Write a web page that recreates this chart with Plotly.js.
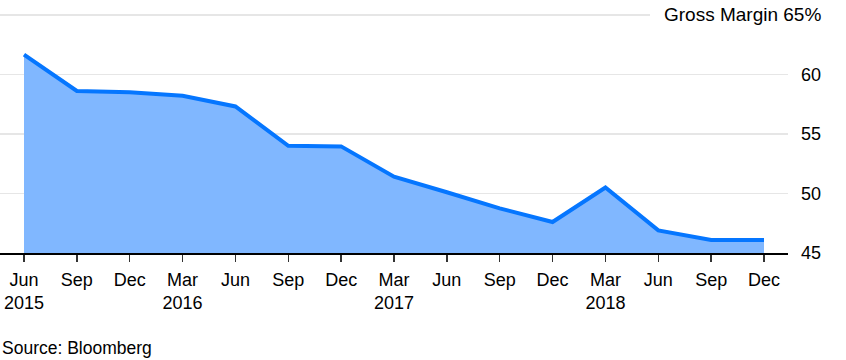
<!DOCTYPE html>
<html>
<head>
<meta charset="utf-8">
<script src="https://cdn.plot.ly/plotly-3.0.1.min.js"></script>
<style>html,body{margin:0;padding:0;background:#fff;}#chart{width:846px;height:360px;}</style>
</head>
<body>
<div id="chart"></div>
<script>
const quarters = ["Jun 2015","Sep 2015","Dec 2015","Mar 2016","Jun 2016","Sep 2016","Dec 2016","Mar 2017","Jun 2017","Sep 2017","Dec 2017","Mar 2018","Jun 2018","Sep 2018","Dec 2018"];
const tickLabels = ["Jun<br>2015","Sep","Dec","Mar<br>2016","Jun","Sep","Dec","Mar<br>2017","Jun","Sep","Dec","Mar<br>2018","Jun","Sep","Dec"];
const grossMargin = [61.65, 58.6, 58.5, 58.2, 57.3, 54.0, 53.95, 51.4, 50.1, 48.75, 47.6, 50.5, 46.9, 46.1, 46.1];
const yTicks = [45, 50, 55, 60, 65];
const yTickText = ["45", "50", "55", "60", ""];

const FONT = "Liberation Sans, Arial, Helvetica, sans-serif";

const trace = {
  x: quarters,
  y: grossMargin,
  type: "scatter",
  mode: "lines",
  fill: "tozeroy",
  fillcolor: "rgb(128,183,255)",
  line: {color: "rgb(5,118,255)", width: 4},
  hoverinfo: "x+y"
};

const layout = {
  width: 846, height: 360,
  margin: {l: 0, r: 58, t: 10, b: 107, pad: 0},
  paper_bgcolor: "#fff", plot_bgcolor: "#fff",
  showlegend: false,
  font: {family: FONT, color: "#000", size: 18},
  xaxis: {
    type: "category",
    range: [-0.454, 14.454],
    tickvals: quarters,
    ticktext: tickLabels,
    showgrid: false,
    zeroline: false,
    showline: true,
    linecolor: "#000",
    linewidth: 2,
    ticks: "outside",
    ticklen: 7,
    tickwidth: 1.5,
    tickcolor: "#333",
    ticklabelstandoff: 2,
    tickfont: {family: FONT, size: 18, color: "#000"}
  },
  yaxis: {
    side: "right",
    range: [45, 65.4],
    tickvals: yTicks,
    ticktext: yTickText,
    showgrid: true,
    gridcolor: "#e6e6e6",
    gridwidth: 1.5,
    zeroline: false,
    showline: false,
    ticks: "",
    ticklabelstandoff: 12,
    tickfont: {family: FONT, size: 18, color: "#000"}
  },
  shapes: [{
    type: "rect", xref: "paper", yref: "y",
    x0: 650/788, x1: 1.0, y0: 64.6, y1: 65.4,
    fillcolor: "#fff", line: {width: 0}, layer: "above"
  }],
  annotations: [
    {text: "Gross Margin 65%", xref: "paper", yref: "y", x: 823/788, y: 65,
     xanchor: "right", yanchor: "middle", showarrow: false,
     font: {family: FONT, size: 19, color: "#000"}},
    {text: "Source: Bloomberg", xref: "paper", yref: "paper", x: 0, y: -0.393,
     xanchor: "left", yanchor: "middle", showarrow: false,
     font: {family: FONT, size: 17.5, color: "#000"}}
  ]
};

Plotly.newPlot("chart", [trace], layout, {displayModeBar: false, staticPlot: true});
</script>
</body>
</html>
